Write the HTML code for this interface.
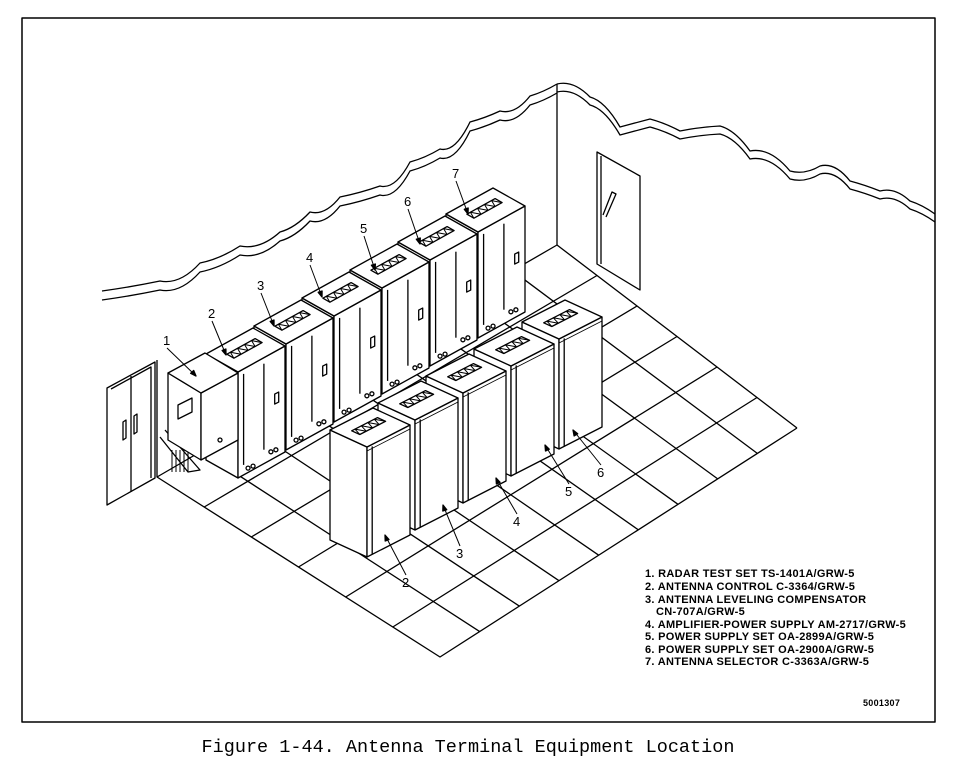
<!DOCTYPE html><html><head><meta charset="utf-8"><style>
html,body{margin:0;padding:0;background:#fff;width:963px;height:768px;overflow:hidden}
svg{display:block}
.l{font-family:"Liberation Sans",sans-serif;font-size:11px;font-weight:bold;letter-spacing:0.3px}
.n{font-family:"Liberation Sans",sans-serif;font-size:13px}
</style></head><body>
<svg id="s" width="963" height="768" viewBox="0 0 963 768" fill="none" stroke="#000" stroke-width="1.3" stroke-linejoin="round">
<rect x="22" y="18" width="913" height="704" stroke-width="1.5"/>
<g id="g"></g>
<g stroke="none" fill="#000">
<text class="l" x="645" y="577">1. RADAR TEST SET TS-1401A/GRW-5</text>
<text class="l" x="645" y="590">2. ANTENNA CONTROL C-3364/GRW-5</text>
<text class="l" x="645" y="603">3. ANTENNA LEVELING COMPENSATOR</text>
<text class="l" x="656" y="615">CN-707A/GRW-5</text>
<text class="l" x="645" y="628">4. AMPLIFIER-POWER SUPPLY AM-2717/GRW-5</text>
<text class="l" x="645" y="640">5. POWER SUPPLY SET OA-2899A/GRW-5</text>
<text class="l" x="645" y="653">6. POWER SUPPLY SET OA-2900A/GRW-5</text>
<text class="l" x="645" y="665">7. ANTENNA SELECTOR C-3363A/GRW-5</text>
<text class="l" x="863" y="706" style="font-size:9px">5001307</text>
<text x="468" y="752" text-anchor="middle" style="font-family:'Liberation Mono',monospace;font-size:18.5px">Figure 1-44.  Antenna Terminal Equipment Location</text>
</g>
</svg>
<script>
var g=document.getElementById('g'),h='';
function P(a){return a.map(function(p){return p[0].toFixed(1)+','+p[1].toFixed(1)}).join(' ')}
function poly(a,f){h+='<polygon points="'+P(a)+'" fill="'+(f||'#fff')+'"/>'}
function pl(a,sw){h+='<polyline points="'+P(a)+'"'+(sw?' stroke-width="'+sw+'"':'')+'/>'}
function ad(a,b){return[a[0]+b[0],a[1]+b[1]]}
function mx(a,b,t){return[a[0]+(b[0]-a[0])*t,a[1]+(b[1]-a[1])*t]}
var w1=[[102,291],[160,281],[200,263],[240,246],[280,232],[310,212],[340,197],[380,186],[410,162],[440,149],[470,122],[500,111],[530,96],[557,84]];
var w2=[[557,84],[590,97],[620,127],[650,119],[680,131],[720,126],[750,151],[790,171],[820,166],[850,181],[880,191],[910,201],[935,214]];
function wav(a,o){var s='M'+a[0][0]+','+(a[0][1]+o);for(var i=1;i<a.length;i++){var p=a[i-1],q=a[i];s+=' Q'+((p[0]+q[0])/2)+','+(p[1]+o+(i%2?-4:4))+' '+q[0]+','+(q[1]+o)}h+='<path d="'+s+'"/>'}
wav(w1,0);wav(w1,9);wav(w2,0);wav(w2,8);
pl([[557,84],[557,245]]);
var C=[557,245],L=[157,477],F=[440,657],R=[797,428];
pl([L,C,R]);
pl([[157,360],[157,477],F,R]);
var NA=9,NB=6;
for(var i=1;i<NA;i++){var t=i/NA;pl([mx(L,C,t),mx(F,R,t)])}
for(var j=1;j<NB;j++){var t=j/NB;pl([mx(L,F,t),mx(C,R,t)])}
poly([[107,388],[155,362],[155,478],[107,505]]);
pl([[111,389],[151,367],[151,478]]);pl([[131,376],[131,492]]);
poly([[123,422],[126,420],[126,438],[123,440]]);poly([[134,416],[137,414],[137,432],[134,434]]);
poly([[597,152],[640,176],[640,290],[597,264]]);pl([[601,156],[601,264]]);
pl([[603,215],[612,192],[616,194],[606,217]]);
pl([[178,415],[205,455]]);pl([[165,430],[200,470],[188,472],[160,437]]);pl([[172,440],[200,410]]);
for(var k=0;k<5;k++)pl([[172+k*4,450],[172+k*4,472]],1);
function vent(p,w,d){var a=ad(ad(p,[w[0]*0.22,w[1]*0.22]),[d[0]*0.45,d[1]*0.45]);var ww=[w[0]*0.6,w[1]*0.6],dd=[d[0]*0.22,d[1]*0.22];
 var q=[a,ad(a,ww),ad(ad(a,ww),dd),ad(a,dd)];poly(q);var z=[];for(var i=0;i<=8;i++){var t=i/8;z.push(ad(mx(a,ad(a,ww),t),i%2?dd:[0,0]))}pl(z,1)}
function box(tp,w,d,H,opt){
 var a=tp,b=ad(tp,w),c=ad(b,d),e=ad(tp,d);
 var ab=[a[0],a[1]+H],bb=[b[0],b[1]+H],eb=[e[0],e[1]+H];
 poly([e,a,ab,eb]);poly([a,b,bb,ab]);poly([a,b,c,e]);
 if(opt.vent)vent(a,w,d);
 if(opt.door){var m=mx(a,b,0.55);pl([[m[0],m[1]+6],[m[0],m[1]+H-14]]);var m2=mx(a,b,0.12);pl([[m2[0],m2[1]+5],[m2[0],m2[1]+H-10]]);
  var hh=mx(a,b,0.78);poly([[hh[0],hh[1]+H*0.4],[hh[0]+4,hh[1]+H*0.4-2],[hh[0]+4,hh[1]+H*0.4+8],[hh[0],hh[1]+H*0.4+10]]);
  var bt=mx(a,b,0.15);h+='<circle cx="'+(bt[0]+3)+'" cy="'+(bt[1]+H-6)+'" r="2"/><circle cx="'+(bt[0]+8)+'" cy="'+(bt[1]+H-8)+'" r="2"/>';
  var b2=mx(a,b,0.7);h+='<circle cx="'+(b2[0])+'" cy="'+(b2[1]+H-8)+'" r="2"/><circle cx="'+(b2[0]+5)+'" cy="'+(b2[1]+H-10)+'" r="2"/>'}
 if(opt.strip){var s=mx(a,b,0.12);pl([[s[0],s[1]+2],[s[0],s[1]+H]]);pl([ad(a,[0,4]),ad(b,[0,4])],0.8)}
}
var W=[47,-26],D=[-32,-18];
for(var i=7;i>=2;i--){box([238+(i-2)*48,372-(i-2)*28],W,D,106,{vent:1,door:1})}
box([201,393],[37,-20],[-33,-20],67,{});
poly([[178,405],[192,398],[192,412],[178,419]]);h+='<circle cx="220" cy="440" r="2"/>';
var W2=[43,-22],D2=[-37,-17];
for(var i=6;i>=2;i--){box([367+(i-2)*48,447-(i-2)*27],W2,D2,110,{vent:1,strip:1})}
function lab(t,x,y,x2,y2){h+='<text class="n" x="'+x+'" y="'+y+'" stroke="none" fill="#000">'+t+'</text>';pl([[x+4,y+(y2>y?3:-12)],[x2,y2]],1);
 var ang=Math.atan2(y2-y,x2-x-4),s=6;h+='<polygon fill="#000" points="'+P([[x2,y2],[x2-s*Math.cos(ang-0.35),y2-s*Math.sin(ang-0.35)],[x2-s*Math.cos(ang+0.35),y2-s*Math.sin(ang+0.35)]])+'"/>'}
lab('1',163,345,196,376);lab('2',208,318,226,355);lab('3',257,290,274,326);lab('4',306,262,322,297);lab('5',360,233,375,270);lab('6',404,206,420,244);lab('7',452,178,468,214);
lab('2',402,587,385,535);lab('3',456,558,443,505);lab('4',513,526,496,478);lab('5',565,496,545,445);lab('6',597,477,573,430);
g.innerHTML=h;
</script>
</body></html>
